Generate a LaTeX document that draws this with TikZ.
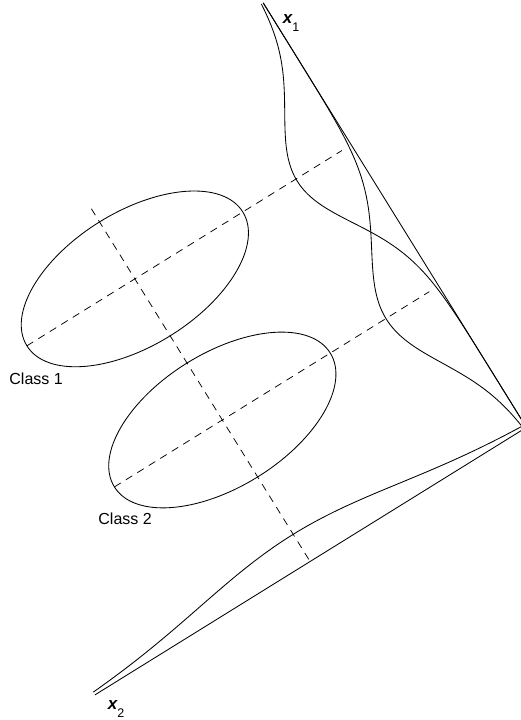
\documentclass[tikz,border=0pt]{standalone}
\usepackage{fontspec}
\setmainfont{Liberation Sans}
\usetikzlibrary{calc}

\begin{document}
\begin{tikzpicture}[x=1pt, y=1pt, line width=0.85pt,
        every node/.style={font=\fontsize{16}{19}\selectfont, text=black, inner sep=0pt},
        projline/.style={dash pattern=on 7.5pt off 6pt, line width=0.75pt},
        densline/.style={smooth}]
        \useasboundingbox (0,0) rectangle (520,720);

        % Frame along the two axes (x1 up-left, x2 down-left)
        \begin{scope}[shift={(526.4,292.6)}, x={(-0.527pt,0.850pt)}, y={(-0.850pt,-0.527pt)}]
            \coordinate (O) at (0,0);
            \coordinate (X1) at (499.5,0);
            \coordinate (X2) at (0,507.6);
            \coordinate (C1) at (332.5,254.5);
            \coordinate (C2) at (166.5,254.5);

            % Axes
            \draw (X1) -- (O) -- (X2);

            % Classes
            \draw (C1) ellipse [x radius=67, y radius=127];
            \draw (C2) ellipse [x radius=67, y radius=127];

            % Projections
            \draw[projline] (332.5,381.5) -- (332.5,11);
            \draw[projline] (166.5,381.5) -- (166.5,11);
            \draw[projline] (415,254.5) -- (2,254.5);

            % Densities on x1
            \draw[densline] plot[domain=0:499.5, samples=170] (\x, {65*exp(-0.5*((\x-330)/65)^2)});
            \draw[densline] plot[domain=0:499.5, samples=170] (\x, {62*exp(-0.5*((\x-166)/67)^2)});

            % Density on x2
            \draw[densline] plot[domain=0:507.6, samples=170] ({32*exp(-0.5*((\x-255)/118)^2)}, \x);
        \end{scope}

        % Labels
        \node[anchor=base west] (lblx1) at (282.5,696.5)
            {\fontsize{17}{17}\selectfont\bfseries\itshape x\raisebox{-8.5pt}{\fontsize{12.5}{12.5}\selectfont\mdseries\upshape 1}};
        \node[anchor=base west] (lblx2) at (107.5,10.7)
            {\fontsize{17}{17}\selectfont\bfseries\itshape x\raisebox{-8pt}{\fontsize{12.5}{12.5}\selectfont\mdseries\upshape 2}};
        \node[anchor=base west] (cls1) at (9,335) {Class 1};
        \node[anchor=base west] (cls2) at (98,195) {Class 2};
    \end{tikzpicture}
\end{document}
